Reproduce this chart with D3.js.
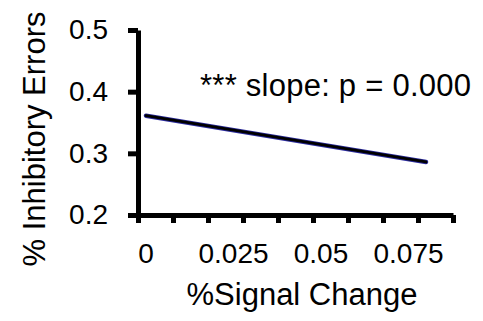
<!DOCTYPE html>
<html>
<head>
<meta charset="utf-8">
<script src="https://cdn.jsdelivr.net/npm/d3@7"></script>
<style>
  html, body { margin: 0; padding: 0; background: #fff; }
  svg { display: block; }
  text { font-family: "Liberation Sans", Arial, sans-serif; fill: #000; }
</style>
</head>
<body>
<div id="chart"></div>
<script>
// ---- data ----
const lineX = [0, 0.08];            // % signal change
const lineY = [0.361, 0.286];       // % inhibitory errors (fitted regression)
const yTicks = [0.2, 0.3, 0.4, 0.5];
const yTickLabels = ["0.2", "0.3", "0.4", "0.5"];
const xTicks = [0, 0.01, 0.02, 0.03, 0.04, 0.05, 0.06, 0.07, 0.08, 0.09];
const xLabelValues = [0, 0.025, 0.05, 0.075];
const xLabelTexts = ["0", "0.025", "0.05", "0.075"];
const annotation = "*** slope: p = 0.000";
const xTitle = "%Signal Change";
const yTitle = "% Inhibitory Errors";

const W = 483, H = 321;
const svg = d3.select("#chart").append("svg").attr("width", W).attr("height", H);

const x = d3.scaleLinear().domain([0, 0.09]).range([146, 461]);
const y = d3.scaleLinear().domain([0.2, 0.5]).range([215, 30]);
const tickShift = -8; // tick marks sit slightly left of label positions

// x axis (ticks only)
const xAxis = svg.append("g")
  .attr("transform", `translate(${tickShift},${y(0.2)})`)
  .call(d3.axisBottom(x).tickValues(xTicks).tickSize(8).tickSizeOuter(0).tickFormat(""));
xAxis.select(".domain").attr("stroke", "#000").attr("stroke-width", 5);
xAxis.selectAll(".tick line").attr("stroke", "#000").attr("stroke-width", 5);

// y axis
const yAxis = svg.append("g")
  .attr("transform", `translate(138,0)`)
  .call(d3.axisLeft(y).tickValues(yTicks).tickSize(10).tickSizeOuter(0).tickPadding(20)
    .tickFormat((d, i) => yTickLabels[i]));
yAxis.select(".domain").attr("stroke", "#000").attr("stroke-width", 5);
yAxis.selectAll(".tick line").attr("stroke", "#000").attr("stroke-width", 5);
yAxis.selectAll(".tick text").attr("font-size", 28).attr("fill", "#000")
  .style("font-family", '"Liberation Sans", Arial, sans-serif');

// x labels
svg.append("g").selectAll("text").data(xLabelValues).join("text")
  .attr("x", d => x(d)).attr("y", 263)
  .attr("text-anchor", "middle").attr("font-size", 28)
  .text((d, i) => xLabelTexts[i]);

// regression line
const pts = lineX.map((v, i) => [v, lineY[i]]);
const lineGen = d3.line().x(d => x(d[0])).y(d => y(d[1]));
svg.append("path").datum(pts).attr("d", lineGen)
  .attr("fill", "none").attr("stroke", "#2a2a9c").attr("stroke-width", 4.6)
  .attr("stroke-linecap", "round");
svg.append("path").datum(pts).attr("d", lineGen)
  .attr("fill", "none").attr("stroke", "#000").attr("stroke-width", 2.8)
  .attr("stroke-linecap", "round");

// annotation
svg.append("text").attr("x", 200).attr("y", 96).attr("font-size", 31)
  .attr("textLength", 271).attr("lengthAdjust", "spacing").text(annotation);

// titles
svg.append("text").attr("x", 302).attr("y", 305).attr("text-anchor", "middle")
  .attr("font-size", 31).text(xTitle);
svg.append("text").attr("transform", "translate(45,139) rotate(-90)")
  .attr("text-anchor", "middle").attr("font-size", 31).text(yTitle);
</script>
</body>
</html>
